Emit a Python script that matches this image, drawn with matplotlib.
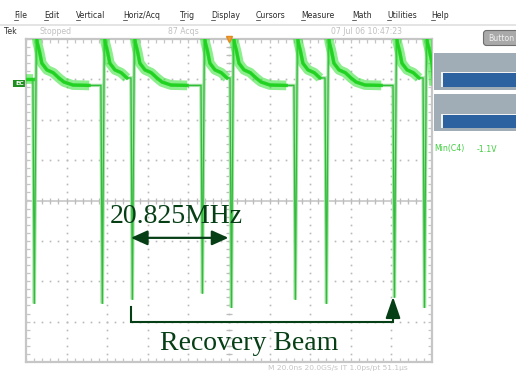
import numpy as np
import matplotlib
matplotlib.use("Agg")
import matplotlib.pyplot as plt
from matplotlib.patches import Rectangle, FancyBboxPatch

# ---- acquisition data (time in ns, voltage in V) ----
pulse_t = [-96.6, -63.1, -48.3, -13.8, 0.5, 32.0, 47.3, 80.8, 95.6]
pulse_min = [-1.09, -1.09, -1.07, -1.04, -1.11, -1.07, -1.09, -1.06, -1.11]
decay_dt = [0.0, 0.5, 1.5, 2.7, 5.2, 8.3, 11.1, 13.6, 18.0, 26.0]
decay_v = [0.24, 0.20, 0.16, 0.10, 0.067, 0.053, 0.027, 0.007, -0.008, -0.01]
start_v = 0.02
rep_freq_mhz = 20.825

menu_items = ["File", "Edit", "Vertical", "Horiz/Acq", "Trig", "Display",
              "Cursors", "Measure", "Math", "Utilities", "Help"]
menu_x = [14, 44, 76, 123, 180, 211, 256, 301, 352, 387, 431]

# scope settings
ns_per_div = 20.0
v_per_div = 0.2
v_center = -0.58

W, H = 516, 372
fig = plt.figure(figsize=(W / 100, H / 100), dpi=100)
fig.patch.set_facecolor("white")

# graticule rectangle in pixels
gl, gr, gt, gb = 26, 432, 39, 362
ax = fig.add_axes([gl / W, (H - gb) / H, (gr - gl) / W, (gb - gt) / H])
ax.set_xlim(-5 * ns_per_div, 5 * ns_per_div)
ax.set_ylim(v_center - 4 * v_per_div, v_center + 4 * v_per_div)
ax.set_xticks([]); ax.set_yticks([])
for s in ax.spines.values():
    s.set_color("#c6c6c6"); s.set_linewidth(1.6)

x0, x1 = ax.get_xlim(); y0, y1 = ax.get_ylim()
grid_c = "#b9b9b9"
sub_t = np.arange(x0, x1 + 1e-9, ns_per_div / 5)
sub_v = np.arange(y0, y1 + 1e-9, v_per_div / 5)
for k in range(1, 10):
    xv = x0 + k * ns_per_div
    ax.plot(np.full_like(sub_v, xv), sub_v, ls="none", marker="s", ms=1.2,
            color=grid_c, mew=0, zorder=1)
for k in range(1, 8):
    yv = y0 + k * v_per_div
    ax.plot(sub_t, np.full_like(sub_t, yv), ls="none", marker="s", ms=1.2,
            color=grid_c, mew=0, zorder=1)
# centre axes with tick marks
ax.axhline(v_center, color="#cfcfcf", lw=1.4, zorder=1)
ax.plot(sub_t, np.full_like(sub_t, v_center), ls="none", marker="|", ms=5,
        color="#bdbdbd", mew=0.9, zorder=1)
ax.plot(np.zeros_like(sub_v), sub_v, ls="none", marker="_", ms=5,
        color="#bdbdbd", mew=0.9, zorder=1)
# border ticks (half clipped by the frame)
for yb in (y0, y1):
    ax.plot(sub_t, np.full_like(sub_t, yb), ls="none", marker="|", ms=6,
            color="#c6c6c6", mew=0.9, zorder=1)
for xb in (x0, x1):
    ax.plot(np.full_like(sub_v, xb), sub_v, ls="none", marker="_", ms=6,
            color="#c6c6c6", mew=0.9, zorder=1)

# ---- build trace ----
t_pts, v_pts = [x0], [start_v]
bands = [([x0, pulse_t[0]], [start_v, start_v])]
for i, (t0, vmin) in enumerate(zip(pulse_t, pulse_min)):
    t_next = pulse_t[i + 1] if i + 1 < len(pulse_t) else x1 + 1
    t_pts += [t0, t0 + 0.7]
    v_pts += [v_pts[-1], vmin]
    rise = t0 + 1.7
    seg_t, seg_v = [], []
    for dt, dv in zip(decay_dt, decay_v):
        if rise + dt < t_next - 0.3:
            t_pts.append(rise + dt); v_pts.append(dv)
            seg_t.append(rise + dt); seg_v.append(dv)
    if t_next > x1:
        t_pts.append(x1 + 1); v_pts.append(decay_v[-1])
        seg_t.append(x1 + 1); seg_v.append(decay_v[-1])
    bands.append((seg_t, seg_v))

ax.plot(t_pts, v_pts, color="#a6e2a6", lw=2.4, zorder=3, solid_joinstyle="miter")
ax.plot(t_pts, v_pts, color="#2fbd3a", lw=0.9, zorder=4)
for st, sv in bands:
    ax.plot(st, sv, color="#2ee02e", lw=7.0, alpha=0.55, zorder=5,
            solid_capstyle="butt")
    ax.plot(st, sv, color="#1fd21f", lw=2.4, alpha=0.9, zorder=6)

# trigger marker
ax.plot([0], [y1], marker="v", ms=5, color="#f0a030", mec="#e08a20",
        clip_on=False, zorder=7)

# ---- annotations ----
ann_c = "#063f16"
period = 1e3 / rep_freq_mhz
ta = pulse_t[2]
ax.annotate("", xy=(ta + period, -0.765), xytext=(ta, -0.765),
            arrowprops=dict(arrowstyle="<|-|>,head_length=1.0,head_width=0.45",
                            mutation_scale=10, lw=1.6, color=ann_c,
                            shrinkA=0, shrinkB=0), zorder=8)
ax.text(-58.6, -0.691, f"{rep_freq_mhz:.3f}MHz", family="Liberation Serif",
        fontsize=20, color=ann_c, ha="left", va="baseline", zorder=8)
tb = pulse_t[7]
ax.plot([ta, ta, tb, tb], [-1.108, -1.181, -1.181, -1.16], color=ann_c,
        lw=1.5, zorder=8, clip_on=False, solid_joinstyle="miter")
ax.annotate("", xy=(tb, -1.057), xytext=(tb, -1.17),
            arrowprops=dict(arrowstyle="-|>,head_length=1.3,head_width=0.45",
                            mutation_scale=10, lw=1.5, color=ann_c,
                            shrinkA=0, shrinkB=0), zorder=8)
ax.text(-34.0, -1.320, "Recovery Beam", family="Liberation Serif",
        fontsize=20, color=ann_c, ha="left", va="baseline", zorder=8)

# ---- instrument chrome, drawn in pixel space ----
ov = fig.add_axes([0, 0, 1, 1], zorder=-1)
ov.set_xlim(0, W); ov.set_ylim(H, 0); ov.axis("off")
ov.patch.set_alpha(0)

for name, xm in zip(menu_items, menu_x):
    ov.text(xm, 16, name, fontsize=5.6, color="#2a2a2a", ha="left", va="center")
    ov.plot([xm, xm + 4], [20, 20], color="#2a2a2a", lw=0.5)
ov.add_patch(Rectangle((0, 23.5), W, 2.2, color="#e4e4e4", lw=0))

ov.text(4, 32, "Tek", fontsize=5.6, color="#303030", va="center")
ov.text(40, 32, "Stopped", fontsize=5.6, color="#c0c0c0", va="center")
ov.text(168, 32, "87 Acqs", fontsize=5.6, color="#c0c0c0", va="center")
ov.text(331, 32, "07 Jul 06 10:47:23", fontsize=5.6, color="#c0c0c0", va="center")
ov.add_patch(FancyBboxPatch((485, 32), 40, 12, boxstyle="round,pad=1.5,rounding_size=3",
                            fc="#a9a9a9", ec="#6e6e6e", lw=0.8))
ov.text(488, 38.5, "Button", fontsize=5.6, color="#f0f0f0", va="center")

panel_c = "#a0acb6"
bar_c = "#2d62a0"
for (py0, py1), (by0, by1) in [((52.7, 90), (73, 87)), ((94, 131), (115, 128))]:
    ov.add_patch(Rectangle((434, py0), W - 434, py1 - py0, fc=panel_c, ec="none"))
    ov.add_patch(Rectangle((441, by0 - 1.5), W - 441, by1 - by0 + 1.5, fc="#f2f2f2", ec="none"))
    ov.add_patch(Rectangle((442.5, by0), W - 442.5, by1 - by0, fc=bar_c, ec="none"))

ov.text(434, 149, "Min(C4)", fontsize=5.6, color="#3fcf3f", va="center")
ov.text(477, 149, "-1.1V", fontsize=5.6, color="#3fcf3f", va="center")

# channel ground marker
ov.add_patch(Rectangle((13, 80), 13, 7, fc="#1f8f1f", ec="none"))
ov.text(19.5, 83.5, "EC", fontsize=4.5, color="white", ha="center", va="center",
        fontweight="bold")

ov.text(268, 368, "M 20.0ns 20.0GS/s IT 1.0ps/pt 51.1\u00b5s", fontsize=5.4,
        color="#c4c4c4", va="center")

fig.savefig("out.png", dpi=100, facecolor="white")
